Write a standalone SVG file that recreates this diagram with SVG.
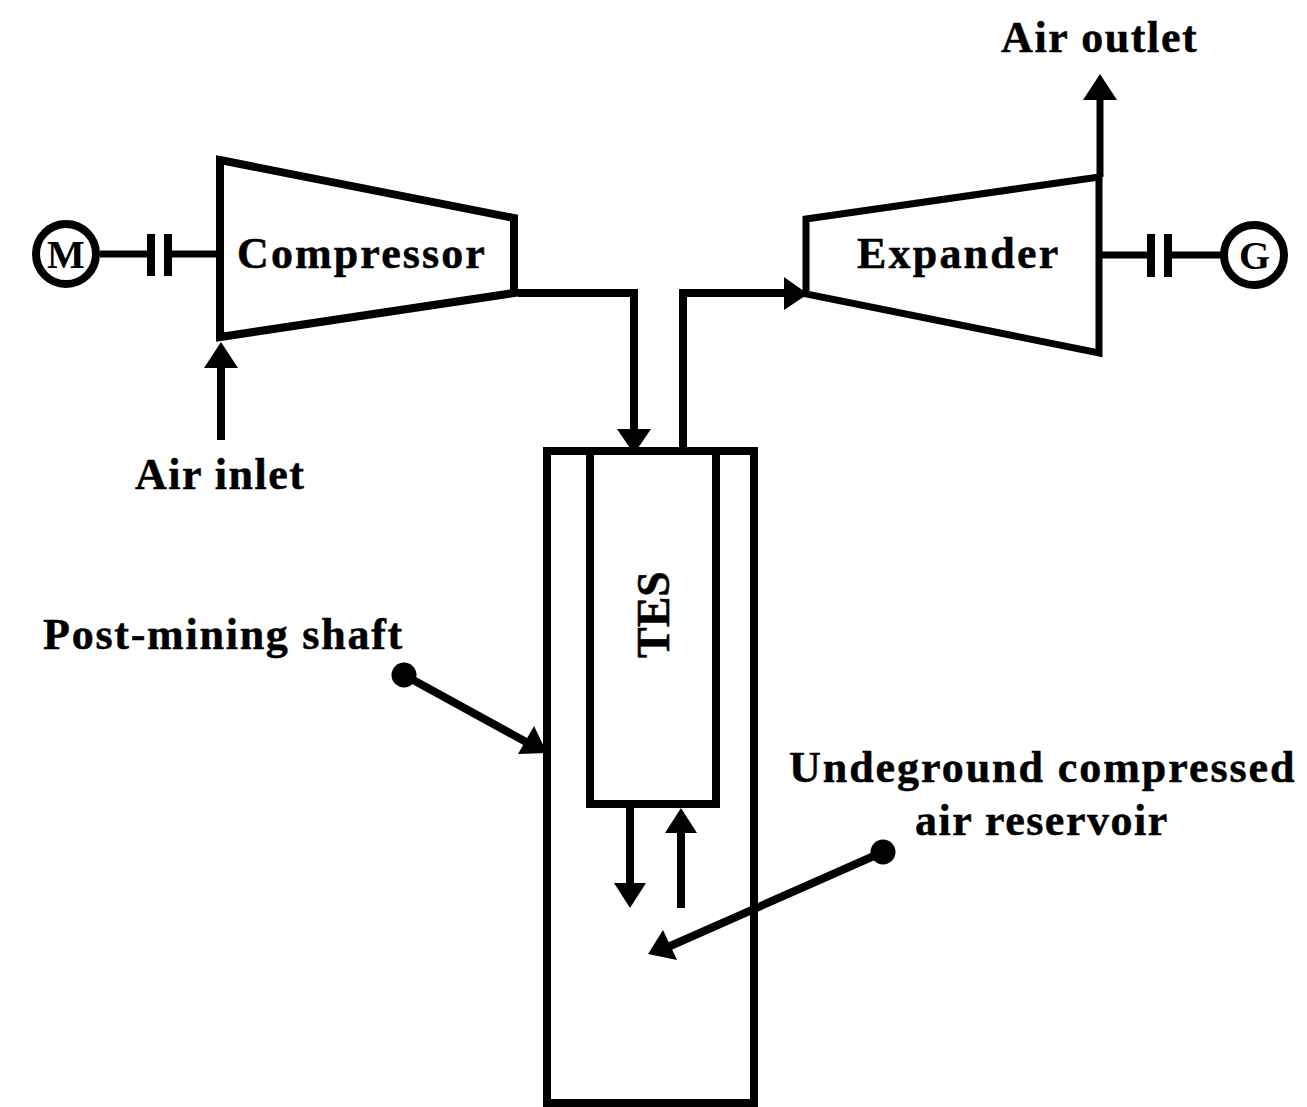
<svg xmlns="http://www.w3.org/2000/svg" width="1307" height="1107" viewBox="0 0 1307 1107">
<style>
text{font-family:"Liberation Serif",serif;font-weight:bold;font-size:44px;fill:#000;stroke:#000;stroke-width:.5}
.l{fill:none;stroke:#000;stroke-width:8}
.t{fill:none;stroke:#000;stroke-width:7}
.a{fill:#000;stroke:none}
.c{font-size:40px;stroke:none}
</style>
<rect width="1307" height="1107" fill="#fff"/>
<g id="compressor"><path class="l" d="M220 160L514 218V293L220 337Z"/><text x="237" y="268" letter-spacing="2.1">Compressor</text></g>
<g id="expander"><path class="t" d="M806 219L1099 177V353L806 294Z"/><text x="857" y="268" letter-spacing="2.2">Expander</text></g>
<g id="motor"><circle class="l" cx="66" cy="254" r="30"/><text class="c" x="47" y="268">M</text></g>
<g id="generator"><circle class="l" cx="1254" cy="255" r="30"/><text class="c" x="1239" y="269">G</text></g>
<g id="shaft"><path class="l" d="M547 1107V451H754V1107M543 1103H758"/></g>
<g id="tes"><path class="l" d="M590 451V804H716V451"/><text transform="translate(669 658) rotate(-90)" style="font-size:46px">TES</text></g>
<g id="labels">
<text x="1001" y="52" letter-spacing="1.6">Air outlet</text>
<text x="135" y="489" letter-spacing="1.5">Air inlet</text>
<text x="43" y="649" letter-spacing="1.75">Post-mining shaft</text>
<text x="789" y="782" letter-spacing="1.95">Undeground compressed</text>
<text x="915" y="835" letter-spacing="1.5">air reservoir</text>
</g>
<g id="connectors">
<path class="t" d="M100 254H150M170 254H220"/><path class="l" d="M151 234V276M168 234V276"/>
<path class="t" d="M1102 255H1150M1168 255H1222"/><path class="l" d="M1151 234V277M1168 234V277"/>
<path class="l" d="M221 440V365"/><path class="a" d="M221 342L238 368H204Z"/>
<path class="l" d="M518 293H634V432"/><path class="a" d="M634 454L617 429H651Z"/>
<path class="l" d="M683 447V293H786"/><path class="a" d="M808 294L784 277V310Z"/>
<path class="t" d="M1100 177V100"/><path class="a" d="M1100 74L1117 100H1083Z"/>
<path class="l" d="M630 804V885"/><path class="a" d="M630 908L614 883H646Z"/>
<path class="l" d="M681 908V830"/><path class="a" d="M681 808L697 833H665Z"/>
<circle class="a" cx="404" cy="675" r="12.5"/><path class="l" d="M404 675L528 743"/><path class="a" d="M547 753L518 754L534 726Z"/>
<circle class="a" cx="883" cy="852" r="12.5"/><path class="l" d="M883 852L668 947"/><path class="a" d="M648 954L663 930L677 960Z"/>
</g>
</svg>
